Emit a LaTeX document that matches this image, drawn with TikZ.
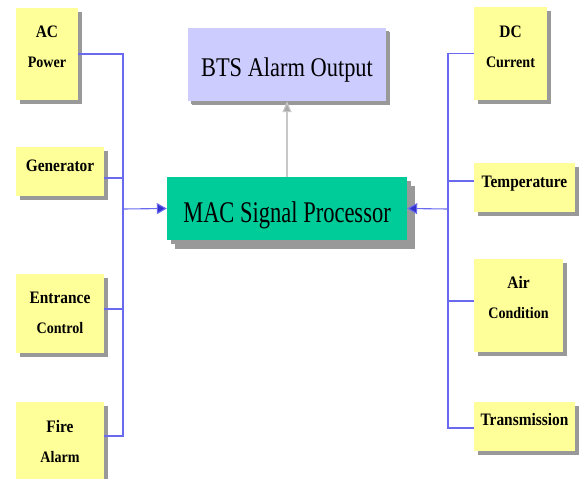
\documentclass[tikz,border=0pt]{standalone}
\usepackage{fontspec}
\setmainfont{Liberation Serif}
\newfontfamily\boxfont[FakeStretch=0.88]{Liberation Serif}
\newfontfamily\btsfont[FakeStretch=0.83]{Liberation Serif}
\newfontfamily\macfont[FakeStretch=0.75]{Liberation Serif}
\newcommand\firstln{\boxfont\bfseries\fontsize{17.5}{21}\selectfont}
\newcommand\secondln{\boxfont\bfseries\fontsize{16}{21}\selectfont}
\newcommand\twoln[2]{\begin{tabular}[t]{@{}c@{}}\firstln #1\\[9pt]\secondln #2\end{tabular}}
\usetikzlibrary{shadows,arrows.meta}
\definecolor{boxyellow}{HTML}{FFFF99}
\definecolor{macgreen}{HTML}{00CC99}
\definecolor{btsblue}{HTML}{CCCCFF}
\definecolor{linkblue}{HTML}{6A6AF0}
\definecolor{tipblue}{HTML}{3333CC}
\definecolor{shadowgray}{HTML}{999999}
\definecolor{arrowgray}{HTML}{C8C8C8}
\definecolor{tipgray}{HTML}{A8A8A8}
\begin{document}
\begin{tikzpicture}[x=1pt,y=-1pt,
  shadowed/.style={draw=none, inner sep=0pt,
    drop shadow={shadow xshift=4pt, shadow yshift=-4pt, fill=shadowgray, opacity=1}},
  sbox/.style={shadowed, fill=boxyellow, text height=11.6pt, font=\firstln},
  bline/.style={draw=linkblue, line width=1.1pt},
  barrow/.style={bline, -{Triangle[length=10pt,width=11pt,fill=tipblue]}},
  garrow/.style={draw=arrowgray, line width=1.2pt, -{Triangle[length=11pt,width=9pt,fill=tipgray]}}]
\useasboundingbox (0,0) rectangle (581,479);
\clip (0,0) rectangle (581,479);
% left inputs
\node[sbox, minimum width=62pt, minimum height=92pt, text depth=45.6pt] (acp) at (47,54)
  {\twoln{AC}{Power}};
\node[sbox, minimum width=88pt, minimum height=49pt, text depth=12.6pt] (gen) at (60,171.5)
  {Generator};
\node[sbox, minimum width=88pt, minimum height=79pt, text depth=32.6pt] (ent) at (60,313.5)
  {\twoln{Entrance}{Control}};
\node[sbox, minimum width=88pt, minimum height=77pt, text depth=28.6pt] (fire) at (60,440.5)
  {\twoln{Fire}{Alarm}};
% right inputs
\node[sbox, minimum width=73pt, minimum height=93pt, text depth=44.6pt] (dc) at (510.5,53.5)
  {\twoln{DC}{Current}};
\node[sbox, minimum width=101pt, minimum height=49pt, text depth=12.6pt] (temp) at (524.5,187.5)
  {Temperature};
\node[sbox, minimum width=89pt, minimum height=93pt, text depth=46.6pt] (air) at (518.5,305.5)
  {\twoln{Air}{Condition}};
\node[sbox, minimum width=101pt, minimum height=49pt, text depth=14.6pt] (trans) at (524.5,426.5)
  {Transmission};
% centre
\node[shadowed, fill=btsblue, minimum width=198pt, minimum height=73pt,
  font=\btsfont\fontsize{27}{30}\selectfont, text height=23pt, text depth=0pt,
  drop shadow={shadow xshift=3pt, shadow yshift=-3pt, fill=shadowgray, opacity=1}] (bts) at (287,64.5)
  {BTS Alarm Output};
\node[shadowed, fill=macgreen, minimum width=240pt, minimum height=63pt,
  font=\macfont\fontsize{30}{32}\selectfont, text height=27pt, text depth=0pt,
  drop shadow={shadow xshift=8pt, shadow yshift=-9pt, fill=shadowgray, opacity=1}] (mac) at (287,208.5)
  {MAC Signal Processor};
% buses
\coordinate (lbus) at (123,209);
\coordinate (rbus) at (448,209);
\draw[bline] (acp.east) -| (lbus);
\draw[bline] ([yshift=-6.5pt]gen.east) -| (lbus);
\draw[bline] ([yshift=4.5pt]ent.east) -| (lbus);
\draw[bline] ([yshift=4.5pt]fire.east) -| (lbus);
\draw[barrow] (lbus) -- (mac.west);
\draw[bline] (dc.west) -| (rbus);
\draw[bline] ([yshift=6.5pt]temp.west) -| (rbus);
\draw[bline] ([yshift=4.5pt]air.west) -| (rbus);
\draw[bline] ([yshift=-1.5pt]trans.west) -| (rbus);
\draw[barrow] (rbus) -- (mac.east);
\draw[garrow] (mac.north) -- (bts.south);
\end{tikzpicture}
\end{document}
